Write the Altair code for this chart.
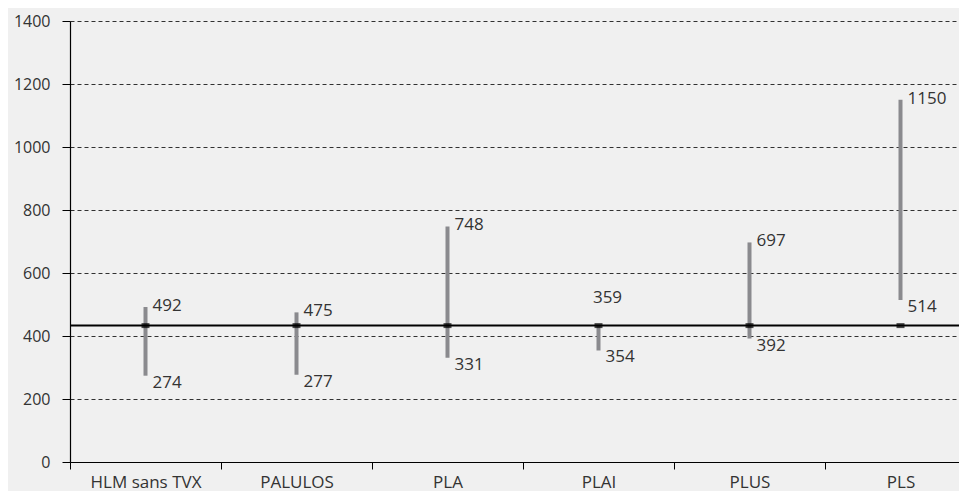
import altair as alt
import pandas as pd
import json

categories = ["HLM sans TVX", "PALULOS", "PLA", "PLAI", "PLUS", "PLS"]
low_values = [274, 277, 331, 354, 392, 514]
high_values = [492, 475, 748, 359, 697, 1150]
bar_low = [274, 277, 331, 354, 392, 514]
bar_high = [492, 475, 748, 433, 697, 1150]
reference_value = 433
y_ticks = [0, 200, 400, 600, 800, 1000, 1200, 1400]

n = len(categories)
df = pd.DataFrame({
    "cat": categories,
    "pos": [i + 0.5 for i in range(n)],
    "lo": low_values,
    "hi": high_values,
    "blo": bar_low,
    "bhi": bar_high,
    "ref": [reference_value] * n,
})

FONT = "Open Sans"
TXT = "#333333"

PLOT_W = 889
BAND = 151
# each category band is 151 px; the last band runs past the right edge
x_domain_end = PLOT_W / BAND
x_values = [i * 0.5 for i in range(2 * n + 1)]
cat_js = json.dumps(categories).replace('"', "'")
label_expr = f"datum.value % 1 === 0 ? '' : {cat_js}[floor(datum.value)]"

x_scale = alt.Scale(domain=[0, x_domain_end], nice=False, zero=False)
x = alt.X("pos:Q", title=None, scale=x_scale,
          axis=alt.Axis(values=x_values, labelExpr=label_expr, labelFont=FONT, labelFontSize=17,
                        labelColor=TXT, labelPadding=5, tickSize=7, tickColor="black",
                        tickOpacity={"condition": {"test": "datum.value % 1 === 0", "value": 1},
                                     "value": 0},
                        domainColor="black", tickWidth=1, domainWidth=1.2, grid=False,
                        labelFlush=False, labelOverlap=False, labelBound=False))
x_plain = alt.X("pos:Q", scale=x_scale)
y_scale = alt.Scale(domain=[0, 1400], nice=False)

base = alt.Chart(df)

bars = base.mark_rule(color="#8a8a8e", strokeWidth=4).encode(
    x=x,
    y=alt.Y("blo:Q", scale=y_scale, title=None,
            axis=alt.Axis(values=y_ticks, format="d", labelFont=FONT, labelFontSize=16,
                          labelColor=TXT, tickSize=8, tickColor="black", domainColor="black",
                          labelPadding=12, gridDash=[4, 3], gridColor="black", gridWidth=0.8,
                          domainWidth=1.2)),
    y2="bhi:Q",
)

ref_line = alt.Chart(pd.DataFrame({"ref": [reference_value]})).mark_rule(
    color="black", strokeWidth=2).encode(y=alt.Y("ref:Q", scale=y_scale))

markers = base.mark_tick(color="black", size=8, thickness=5, orient="horizontal").encode(
    x=x_plain, y=alt.Y("ref:Q", scale=y_scale))

text_props = dict(font=FONT, fontSize=17, color=TXT, align="left")

hi_labels = base.transform_filter(alt.datum.cat != "PLAI").mark_text(
    dx=7, dy=4, baseline="alphabetic", **text_props).encode(
    x=x_plain, y=alt.Y("hi:Q", scale=y_scale), text="hi:Q")

hi_special = base.transform_filter(alt.datum.cat == "PLAI").mark_text(
    dx=9, dy=-23, baseline="alphabetic", font=FONT, fontSize=17, color=TXT, align="center").encode(
    x=x_plain, y=alt.Y("bhi:Q", scale=y_scale), text="hi:Q")

lo_labels = base.mark_text(dx=7, dy=-1, baseline="top", **text_props).encode(
    x=x_plain, y=alt.Y("lo:Q", scale=y_scale), text="lo:Q")

chart = alt.layer(bars, ref_line, markers, hi_labels, hi_special, lo_labels).properties(
    width=PLOT_W, height=441, background="#f0f0f0",
    padding={"left": 62, "top": 13, "right": 0, "bottom": 29},
    autosize=alt.AutoSizeParams(type="none"),
).configure_view(stroke=None)

chart.save("out.html", embed_options={"renderer": "svg", "actions": False})
